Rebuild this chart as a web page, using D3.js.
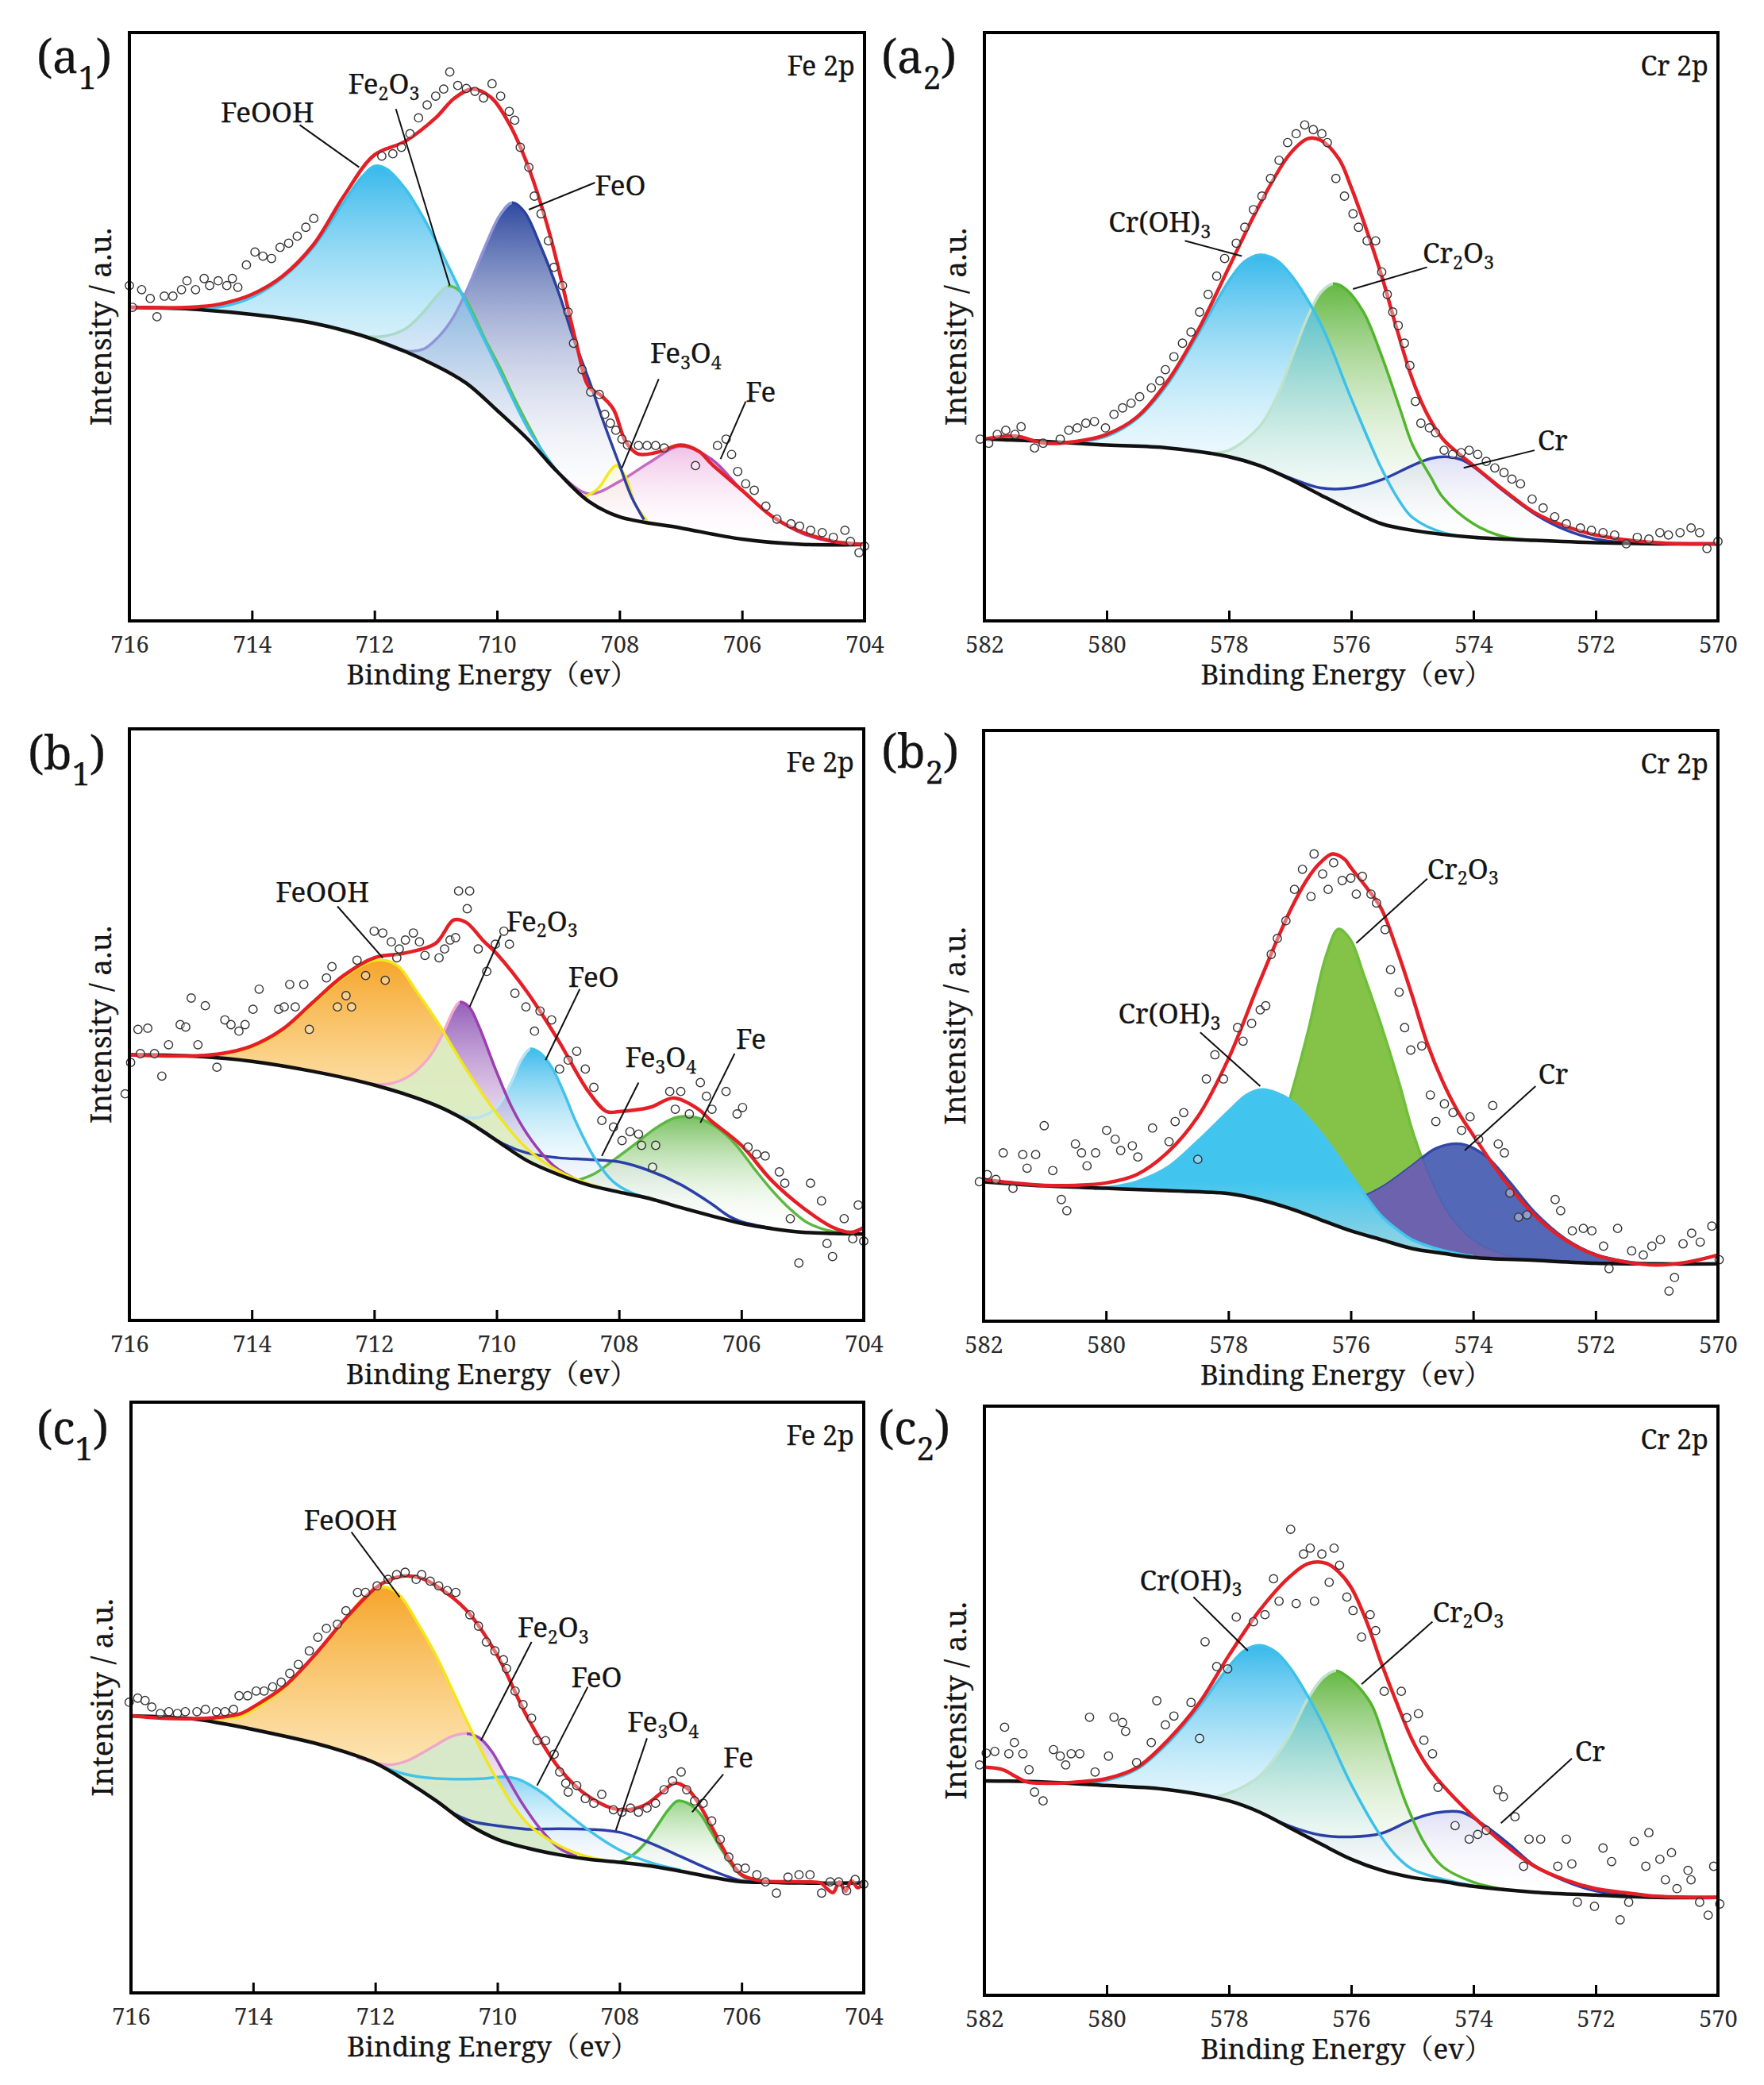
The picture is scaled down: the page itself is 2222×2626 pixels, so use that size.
<!DOCTYPE html>
<html><head><meta charset="utf-8">
<script src="https://cdn.jsdelivr.net/npm/d3@7"></script>
<style>body{margin:0;background:#fff}svg{display:block}
svg text{font-family:"Noto Serif","Liberation Serif","Noto Serif CJK SC","Noto Sans CJK SC",serif;}
</style>
</head><body>
<svg id="c" width="2222" height="2626"></svg>
<script>
// ---------------- DATA ----------------
const feTicks = [716,714,712,710,708,706,704];
const crTicks = [582,580,578,576,574,572,570];

// ---- (a1) Fe 2p ----
const a1Bg = [[716,53.3],[715,53.0],[714,52.1],[713,50.6],[712,47.8],[711,43.4],[710.5,40.4],[710,35.8],[709.5,30.9],[709,25.2],[708.5,20.3],[708,17.7],[707,15.8],[706,13.9],[705,13.0],[704,13.0]];
const a1Fit = [[716,53.3],[715,53.3],[714.5,53.9],[714,55.5],[713.5,58.6],[713,63.9],[712.5,72.2],[712,79.2],[711.5,81.5],[711,85.5],[710.7,88.8],[710.4,90.4],[710.1,89.0],[709.8,84.5],[709.5,77.5],[709.2,68],[709,60.1],[708.7,47],[708.5,39.8],[708.3,38.3],[708.1,36.0],[707.9,30.5],[707.7,28.4],[707.4,28.6],[707,29.9],[706.7,28.8],[706.5,26.7],[706,22.2],[705.5,17.7],[705,15.0],[704.5,13.5],[704,13.0]];
const a1FeOOH = [[716,53.3],[715,53.1],[714.5,53.4],[714,55.0],[713.5,58.3],[713,63.5],[712.5,71.2],[712.2,75.5],[712,77.3],[711.8,76.8],[711.5,73.5],[711.2,68.5],[711,64.6],[710.5,54],[710,43.4],[709.5,32.8],[709.2,28.0],[709,25.2]];
const a1Fe2O3 = [[712.6,49.5],[712.2,48.5],[711.9,48.3],[711.5,49.6],[711.2,52.5],[711,55],[710.8,56.9],[710.6,56.0],[710.4,52.5],[710.2,48],[709.95,43],[709.7,37.5],[709.4,31.5],[709.2,27.8],[709.0,25.2]];
const a1FeO = [[712,47.8],[711.5,45.9],[711.2,46.2],[711,47.8],[710.75,51],[710.5,56],[710.2,63.5],[709.95,69],[709.75,71.1],[709.55,69.5],[709.3,64],[709,56],[708.75,48],[708.5,41],[708.25,33.5],[708,26.5],[707.8,21],[707.6,17.2]];
const a1Fe3O4 = [[708.6,20.9],[708.35,22.5],[708.15,25.5],[708.05,26.4],[707.9,24.5],[707.75,20],[707.55,17.0]];
const a1Fe = [[709.2,27.3],[709,25.2],[708.5,21.6],[708,23.7],[707.5,27],[707,29.7],[706.5,27.5],[706,22.2],[705.5,17.7],[705,14.8],[704.5,13.4],[704,13.0]];
const a1Pts = [[716.0,57],[715.95,53.3],[715.8,56.3],[715.66,54.8],[715.55,51.7],[715.43,55.2],[715.29,55.2],[715.15,56.3],[715.06,57.8],[714.92,56.3],[714.78,58.2],[714.69,57],[714.55,57.8],[714.41,57],[714.32,58.2],[714.23,56.7],[714.09,60.5],[713.95,62.7],[713.82,62],[713.68,61.6],[713.54,63.5],[713.4,64.2],[713.26,65.4],[713.12,66.9],[712.99,68.4],[711.88,79],[711.7,79.4],[711.56,80.5],[711.42,82.8],[711.28,85.5],[711.14,87.7],[711.0,89.2],[710.87,90.4],[710.77,93.3],[710.64,91.0],[710.5,90.5],[710.36,90.0],[710.22,88.9],[710.08,91.3],[709.94,89.2],[709.8,86.6],[709.71,85.1],[709.62,80.5],[709.48,77.1],[709.39,72.2],[709.28,69.2],[709.16,64.6],[709.07,60.1],[708.93,57.0],[708.84,52.5],[708.75,47.2],[708.61,42.7],[708.47,38.9],[708.33,38.5],[708.24,35.1],[708.15,33.6],[708.06,32.4],[707.96,30.9],[707.87,29.9],[707.69,29.8],[707.55,29.8],[707.41,29.8],[707.27,29.4],[706.76,26.4],[706.4,29.8],[706.26,30.9],[706.17,28.3],[706.07,25.4],[705.94,23.3],[705.8,22.2],[705.61,19.5],[705.43,17.3],[705.2,16.5],[705.06,16.1],[704.88,15.4],[704.69,15.0],[704.51,14.2],[704.32,15.4],[704.23,13.5],[704.09,11.6],[704.0,12.7]];

// ---- (a2) Cr 2p ----
const a2Bg = [[582,30.9],[581,30.5],[580,29.9],[579,29.4],[578,27.9],[577.5,26.4],[577,24.1],[576.5,21.4],[576,18.8],[575.5,16.5],[575,15.4],[574,14.2],[573,13.7],[572,13.3],[571,13.1],[570,13.1]];
const a2Fit = [[582,30.9],[581.5,31.4],[581,30.2],[580.5,30.5],[580,31.7],[579.5,34.7],[579,40.8],[578.5,49.5],[578,60.1],[577.5,70.7],[577,79.4],[576.7,82.0],[576.5,81.7],[576.2,78.5],[576,73.7],[575.75,66.5],[575.5,58.6],[575.25,49.5],[575,41.1],[574.75,35],[574.5,30.9],[574.25,28.5],[574,26.4],[573.5,22.2],[573,18.4],[572.5,16.1],[572,14.6],[571,13.3],[570,13.1]];
const a2CrOH = [[580.6,30.2],[580,31.4],[579.5,34.4],[579,40.3],[578.5,48.8],[578,57.8],[577.75,61],[577.5,62.2],[577.25,61.5],[577,59],[576.5,50.5],[576,37.8],[575.5,25.8],[575.2,20.2],[575,17.6],[574.5,15.0],[574,14.2]];
const a2Cr2O3 = [[578.3,28.5],[578,29],[577.5,33],[577.2,38.5],[577,44],[576.7,52],[576.5,55.8],[576.3,57.3],[576.1,56.5],[575.8,52.5],[575.5,45],[575.2,36],[575,30],[574.7,24.5],[574.5,21],[574,16.5],[573.5,14.3],[573,13.7]];
const a2Cr = [[578,27.9],[577.5,26.4],[577,24.3],[576.5,22.6],[576,22.6],[575.5,24.0],[575,26.4],[574.7,27.6],[574.45,27.9],[574.2,27.4],[574,26.2],[573.5,22.0],[573,18.2],[572.5,15.5],[572,13.9],[571.5,13.3],[571,13.1]];
const a2Pts = [[582.07,30.9],[581.93,30.2],[581.79,31.7],[581.65,32.4],[581.5,31.7],[581.4,33.0],[581.18,29.4],[581.04,30.2],[580.76,30.9],[580.62,32.4],[580.48,32.8],[580.34,33.6],[580.2,33.9],[580.02,32.8],[579.88,35.1],[579.74,36.2],[579.6,37.0],[579.46,38.1],[579.27,39.6],[579.13,40.8],[579.04,42.7],[578.9,44.9],[578.76,47.2],[578.62,49.1],[578.48,52.5],[578.34,55.5],[578.2,58.6],[578.07,61.6],[577.88,64.2],[577.74,66.9],[577.6,69.9],[577.46,72.2],[577.32,75.2],[577.18,78.3],[577.04,81.3],[576.9,82.8],[576.76,84.3],[576.62,83.5],[576.48,82.8],[576.39,81.3],[576.25,75.2],[576.11,72.2],[575.97,69.2],[575.88,66.9],[575.74,64.6],[575.6,64.6],[575.5,59.3],[575.41,55.5],[575.32,52.5],[575.23,50.2],[575.13,47.2],[575.04,43.4],[574.95,37.3],[574.86,33.6],[574.72,32.8],[574.62,32.0],[574.48,29.0],[574.34,28.3],[574.2,28.6],[574.07,29.0],[573.93,28.3],[573.79,27.1],[573.65,26.0],[573.5,25.2],[573.37,24.1],[573.23,23.3],[573.04,20.7],[572.86,19.2],[572.67,17.7],[572.48,16.5],[572.25,15.8],[572.07,15.4],[571.88,15.0],[571.69,14.6],[571.5,13.1],[571.32,14.2],[571.13,13.9],[570.95,15.0],[570.81,14.6],[570.62,15.0],[570.44,15.8],[570.3,15.0],[570.18,12.3],[570.0,13.5]];

// ---- (b1) Fe 2p ----
const b1Bg = [[716,44.9],[715,44.7],[714,43.8],[713,42.1],[712,39.8],[711,36.4],[710.5,33.8],[710,30.4],[709.5,27.0],[709,24.7],[708.5,22.9],[708,21.7],[707.5,20.6],[707,19.1],[706.5,17.7],[706,16.4],[705.5,15.5],[705,14.9],[704.5,14.7],[704,14.6]];
const b1Fit = [[716,44.9],[715,44.7],[714.5,45.1],[714,46.4],[713.5,49.2],[713,53.8],[712.5,58.3],[712,61.3],[711.5,62.1],[711,63.7],[710.7,67.7],[710.5,67.3],[710.2,64],[710,62],[709.5,55.5],[709,47.5],[708.5,38.7],[708.2,35.3],[708,35.3],[707.5,36.0],[707.1,37.6],[706.7,35.7],[706.5,33.8],[706,29.6],[705.5,23.6],[705,19.1],[704.5,15.7],[704.2,14.9],[704,15.7]];
const b1FeOOH = [[715,44.7],[714.5,45],[714,46.2],[713.5,49],[713,53.5],[712.5,58],[712.1,60.5],[711.85,60.9],[711.6,59.8],[711.3,55.5],[711,51],[710.5,42.5],[710,35],[709.5,29],[709,25.3],[708.5,23.1],[708.1,21.9]];
const b1Fe2O3 = [[712.5,41],[712,39.9],[711.7,40.1],[711.4,41.5],[711.1,44.5],[710.9,48],[710.7,52.5],[710.6,53.8],[710.45,53],[710.3,50],[710,42],[709.75,36],[709.5,31.5],[709.2,27.5],[709,25.6],[708.6,23.3]];
const b1FeO = [[711,36.4],[710.6,34.6],[710.3,34.3],[710,36],[709.75,40.5],[709.6,44],[709.45,45.9],[709.3,45.3],[709.1,42.8],[708.9,38.5],[708.7,33.5],[708.4,27.5],[708.1,23.5],[707.8,21.6],[707.5,20.7]];
const b1Fe3O4 = [[710.5,33.8],[710.2,31.9],[709.9,29.9],[709.5,28.3],[709,27.5],[708.5,27.2],[708,26.8],[707.5,25.3],[707,23],[706.5,19.8],[706.2,17.6],[706,16.7],[705.5,15.6]];
const b1Fe = [[708.7,23.6],[708.4,24.8],[708.1,27],[707.8,29.3],[707.4,32.5],[707.1,34.2],[706.95,34.5],[706.7,34.2],[706.4,32.6],[706.1,29.8],[705.8,25.8],[705.5,22],[705.2,18.8],[704.9,16.4],[704.5,15],[704,14.6]];
const b1Pts = [[716.07,38.3],[715.98,43.6],[715.86,49.2],[715.7,49.4],[715.82,45.1],[715.59,45.1],[715.47,41.3],[715.36,46.6],[715.17,50.0],[715.08,49.6],[714.99,54.5],[714.88,46.6],[714.76,53.2],[714.57,42.8],[714.44,50.8],[714.34,50.0],[714.21,48.9],[714.11,50.0],[713.98,52.6],[713.88,56.0],[713.56,52.6],[713.47,53.0],[713.38,56.8],[713.29,53.0],[713.15,56.8],[713.06,49.2],[712.78,57.9],[712.69,59.8],[712.6,53.0],[712.46,54.9],[712.37,53.0],[712.28,60.9],[712.14,58.3],[712.0,65.8],[711.86,65.5],[711.82,57.5],[711.72,64.0],[711.63,61.3],[711.59,62.8],[711.49,64.3],[711.36,65.5],[711.26,64.0],[711.17,61.7],[710.94,61.3],[710.85,62.8],[710.76,64.3],[710.67,64.7],[710.62,72.6],[710.44,72.6],[710.48,69.6],[710.3,62.8],[710.16,59.0],[710.02,63.6],[709.88,65.8],[709.79,63.6],[709.7,55.3],[709.52,53.0],[709.38,48.9],[709.29,52.3],[709.1,50.8],[708.97,42.5],[708.83,44.0],[708.69,45.5],[708.55,42.5],[708.41,39.4],[708.28,33.8],[708.09,32.7],[707.95,30.4],[707.82,31.9],[707.68,31.5],[707.63,29.6],[707.45,25.9],[707.4,29.6],[707.17,38.7],[706.99,38.7],[707.08,35.7],[706.85,34.9],[706.67,40.2],[706.57,37.9],[706.48,35.7],[706.25,38.7],[706.07,34.9],[705.98,36.0],[705.89,29.3],[705.75,28.1],[705.61,27.8],[705.38,25.1],[705.29,23.2],[705.2,17.2],[705.06,9.7],[704.87,23.2],[704.69,20.2],[704.6,13.0],[704.51,10.8],[704.32,17.2],[704.18,13.8],[704.09,19.5],[704.0,13.4]];

// ---- (b2) Cr 2p ----
const b2Bg = [[582,23.6],[581,22.9],[580,22.5],[579,22.1],[578,21.6],[577.5,20.6],[577,19.1],[576.5,17.2],[576,15.3],[575.5,13.8],[575,12.3],[574.5,11.5],[574,10.8],[573,10.3],[572,9.8],[571,9.7],[570,9.7]];
const b2Fit = [[582,24.0],[581.5,23.4],[581,23.0],[580.5,23.0],[580,23.4],[579.5,24.8],[579,28.5],[578.5,34.6],[578,44.4],[577.5,57.2],[577,69.3],[576.7,75],[576.5,77.6],[576.3,79.1],[576.1,78.2],[576,76.8],[575.75,73.5],[575.5,69.8],[575.25,63],[575,55.2],[574.75,47],[574.5,40.6],[574.25,35.5],[574,31.5],[573.5,24.0],[573,18.0],[572.5,13.8],[572,11.2],[571.5,10.0],[571,9.5],[570.5,10.0],[570,11.2]];
const b2CrOH = [[580.2,22.4],[579.8,22.9],[579.5,23.6],[579,26],[578.5,30.5],[578,35.5],[577.7,38.3],[577.45,39.2],[577.2,38.6],[577,37.5],[576.5,32],[576,24.8],[575.5,17.8],[575.2,15.2],[575,13.8],[574.5,12.0],[574,11.0]];
const b2Cr2O3 = [[578.2,21.7],[577.8,22.5],[577.5,24.5],[577.2,31],[577,37.5],[576.7,49],[576.4,62],[576.2,66.4],[576,64.5],[575.8,59],[575.5,50],[575.2,40],[575,32.5],[574.7,24],[574.4,18],[574,13.6],[573.5,11.2],[573,10.3]];
const b2Cr = [[577.5,20.6],[577,19.6],[576.5,19.6],[576,20.3],[575.5,22.6],[575,26.3],[574.6,29.3],[574.2,30.0],[573.8,28],[573.4,23.5],[573,18.5],[572.5,14],[572,11.3],[571.5,10.1],[571,9.7]];
const b2Pts = [[582.07,23.6],[581.94,24.8],[581.8,24.0],[581.68,28.5],[581.52,22.5],[581.36,28.2],[581.29,25.9],[581.15,28.2],[581.01,33.1],[580.87,25.5],[580.73,20.6],[580.64,18.7],[580.5,30.0],[580.4,28.5],[580.31,26.3],[580.17,28.5],[579.99,32.3],[579.85,30.8],[579.76,28.9],[579.57,29.7],[579.48,27.8],[579.24,32.7],[578.97,30.4],[578.87,33.8],[578.73,35.3],[578.5,27.4],[578.36,41.0],[578.22,45.1],[578.08,41.0],[577.85,49.7],[577.76,47.4],[577.62,50.4],[577.48,52.7],[577.39,53.4],[577.3,62.1],[577.2,64.8],[577.06,67.8],[576.92,73.1],[576.79,76.5],[576.65,71.9],[576.6,79.1],[576.46,75.7],[576.37,73.1],[576.28,77.6],[576.14,74.6],[576.0,75.0],[575.91,72.3],[575.81,75.3],[575.67,72.3],[575.58,70.8],[575.44,66.3],[575.35,59.5],[575.21,55.7],[575.12,49.7],[575.02,45.9],[574.84,46.6],[574.7,38.3],[574.61,33.8],[574.47,36.8],[574.33,35.3],[574.19,32.3],[574.05,34.6],[573.91,30.8],[573.68,36.5],[573.59,30.0],[573.49,28.5],[573.4,21.7],[573.26,17.6],[573.12,18.0],[572.66,20.6],[572.57,18.7],[572.38,15.3],[572.2,15.7],[572.06,15.3],[571.87,12.7],[571.78,8.9],[571.64,15.7],[571.41,11.9],[571.22,11.2],[571.08,12.7],[570.94,13.8],[570.8,5.1],[570.71,7.4],[570.57,13.1],[570.43,14.9],[570.29,13.4],[570.1,16.1],[569.98,10.4]];

// ---- (c1) Fe 2p ----
const c1Bg = [[716,46.9],[715,46.4],[714.5,45.6],[714,44.6],[713,42.3],[712.5,40.8],[712,38.9],[711.5,35.9],[711,32.5],[710.5,28.7],[710,26.0],[709.5,24.5],[709,23.4],[708.5,22.6],[708,22.1],[707.5,21.5],[707,20.6],[706.5,19.6],[706,18.8],[705.5,18.7],[705,18.6],[704,18.6]];
const c1Fit = [[716,46.9],[715.5,46.5],[715,46.4],[714.5,46.7],[714.2,47.3],[714,48.4],[713.5,51.8],[713,57.1],[712.5,63.2],[712,68.5],[711.75,70.0],[711.5,70.6],[711.25,70.2],[711,68.9],[710.5,64.7],[710,57.1],[709.5,46.5],[709,38.2],[708.5,33.2],[708,31.0],[707.6,31.7],[707.3,34],[707.1,35.5],[706.9,34.7],[706.7,32],[706.5,28.3],[706.2,22.6],[706,20.0],[705.7,19.0],[705,18.8],[704.7,18.6],[704.6,17.6],[704.5,17.0],[704.4,18.8],[704.3,17.2],[704.2,19.0],[704.1,17.8],[704,18.6]];
const c1FeOOH = [[715,46.4],[714.5,46.4],[714.2,46.8],[714,47.9],[713.5,51.5],[713,57],[712.5,63],[712.2,66.8],[711.85,68.7],[711.6,67.3],[711.3,62.5],[711,57],[710.5,46],[710,36],[709.5,28.6],[709,25],[708.5,23],[708,22.1]];
const c1Fe2O3 = [[712.3,39.8],[712,39],[711.8,38.6],[711.5,39.2],[711.2,40.8],[711,42],[710.75,43.4],[710.5,43.9],[710.3,43.2],[710.1,41],[709.9,37.5],[709.6,32.2],[709.3,27.8],[709,24.6],[708.7,23.1]];
const c1FeO = [[712,38.9],[711.7,37.6],[711.4,36.8],[711,36.3],[710.5,36.2],[710.2,36.3],[709.9,36.6],[709.7,36.3],[709.5,35.4],[709.2,33.4],[709,31.6],[708.5,27.5],[708,24.2],[707.5,22.1],[707,20.8]];
const c1Fe3O4 = [[711,32.5],[710.7,30.3],[710.4,29.0],[710,28.3],[709.5,27.7],[709,27.8],[708.5,27.7],[708,27.2],[707.5,25.4],[707,23.1],[706.5,20.8],[706.2,19.6],[706,19.0],[705.6,18.7]];
const c1Fe = [[708,22.1],[707.8,23.2],[707.6,25.1],[707.4,28],[707.2,31],[707.05,32.5],[706.9,32.2],[706.7,30.6],[706.5,27.3],[706.3,23.8],[706.1,20.8],[705.9,19.2],[705.6,18.7]];
const c1Pts = [[716.03,49.2],[715.89,49.9],[715.77,49.5],[715.66,48.4],[715.52,47.3],[715.38,47.6],[715.24,47.3],[715.11,47.6],[714.92,47.6],[714.78,48.0],[714.6,47.6],[714.46,47.6],[714.32,48.0],[714.23,50.3],[714.09,50.3],[713.95,51.1],[713.82,51.1],[713.68,51.8],[713.54,52.6],[713.4,54.1],[713.26,55.6],[713.08,57.9],[712.94,60.2],[712.8,61.7],[712.62,62.4],[712.48,64.7],[712.29,67.8],[712.16,67.8],[711.97,68.9],[711.79,70.0],[711.65,70.8],[711.51,71.2],[711.33,70.0],[711.24,70.8],[711.1,69.7],[710.96,68.9],[710.82,68.1],[710.68,67.8],[710.45,64.0],[710.31,62.1],[710.18,59.4],[710.04,57.9],[709.9,56.4],[709.85,54.9],[709.71,51.1],[709.58,48.8],[709.44,46.5],[709.35,42.7],[709.21,42.7],[709.07,40.4],[708.98,37.4],[708.88,35.5],[708.84,34.0],[708.7,35.1],[708.56,32.9],[708.42,32.1],[708.29,33.6],[708.1,31.0],[707.96,30.6],[707.82,31.3],[707.69,30.6],[707.55,31.3],[707.41,32.1],[707.27,34.4],[707.13,35.9],[706.99,37.4],[706.9,34.4],[706.77,32.5],[706.63,32.1],[706.49,29.1],[706.35,26.0],[706.21,23.0],[706.07,21.1],[705.94,21.1],[705.75,20.0],[705.61,18.8],[705.43,16.9],[705.24,19.6],[705.06,20.0],[704.88,20.0],[704.69,16.9],[704.55,18.8],[704.41,18.8],[704.28,17.3],[704.14,19.2],[704.0,18.4]];

// ---- (c2) Cr 2p ----
const c2Bg = [[582,36.4],[581,36.2],[580,35.6],[579,34.9],[578,33.0],[577.5,31.1],[577,28.4],[576.5,25.7],[576,23.1],[575.5,21.2],[575,20.0],[574.5,19.3],[574,18.5],[573,17.5],[572,17.0],[571,16.6],[570,16.6]];
const c2Fit = [[582,38.7],[581.7,38.3],[581.5,37.2],[581.3,36.2],[581,36.0],[580.5,36.2],[580,36.8],[579.5,38.7],[579,43.3],[578.5,49.4],[578,57.7],[577.5,65.3],[577,71.1],[576.7,73.3],[576.4,73.3],[576.2,71.8],[576,69.2],[575.75,63.5],[575.5,56.2],[575.25,49.5],[575,43.3],[574.75,38.8],[574.5,35.6],[574,30.3],[573.5,25.7],[573,21.9],[572.5,19.6],[572,18.1],[571.5,17.4],[571,16.8],[570,16.6]];
const c2CrOH = [[580.6,36.0],[580,36.5],[579.5,38.4],[579,42.8],[578.5,48.8],[578,55.8],[577.75,58.5],[577.5,59.4],[577.25,58.4],[577,55.6],[576.5,46.8],[576,35.8],[575.5,26.8],[575.2,23],[575,21.4],[574.5,19.7],[574,18.6]];
const c2Cr2O3 = [[578.3,33.5],[578,34.3],[577.5,37.2],[577.2,41],[577,44.3],[576.7,50.5],[576.45,54],[576.25,55.1],[576.05,54],[575.85,52],[575.65,49],[575.4,41.5],[575.1,32.5],[574.8,25.8],[574.5,21.8],[574,19.2],[573.5,18]];
const c2Cr = [[577.5,31.1],[577,28.7],[576.5,27.2],[576,26.9],[575.5,27.5],[575,29.8],[574.6,31],[574.2,31.1],[573.8,28.7],[573.4,25.5],[573,22],[572.5,19.4],[572,17.7],[571.5,17]];
const c2Pts = [[582.08,39.1],[581.97,41.1],[581.83,41.4],[581.67,45.5],[581.6,41.0],[581.51,42.9],[581.37,41.0],[581.27,38.3],[581.18,34.5],[581.04,33.0],[580.87,41.7],[580.76,40.6],[580.67,39.1],[580.58,41.0],[580.44,41.0],[580.28,47.2],[580.19,37.9],[579.97,40.6],[579.88,47.2],[579.74,46.3],[579.69,44.8],[579.51,39.5],[579.27,42.9],[579.18,50.0],[579.04,45.9],[578.9,47.4],[578.62,49.7],[578.48,43.6],[578.39,60.0],[578.2,55.8],[578.02,55.4],[577.88,64.2],[577.6,63.4],[577.41,64.6],[577.27,70.7],[577.18,66.9],[576.99,79.1],[576.9,66.5],[576.78,74.9],[576.67,75.9],[576.6,66.9],[576.48,74.9],[576.36,70.1],[576.28,75.9],[576.19,73.0],[576.07,67.6],[575.97,65.3],[575.83,60.8],[575.69,64.6],[575.6,61.9],[575.46,51.6],[575.18,51.6],[575.09,47.1],[574.9,47.8],[574.81,43.3],[574.67,41.0],[574.58,35.3],[574.3,28.8],[574.07,26.5],[573.93,27.3],[573.79,28.0],[573.6,34.9],[573.51,33.7],[573.32,30.3],[573.18,21.9],[573.09,26.5],[572.9,26.5],[572.62,21.9],[572.48,26.5],[572.39,22.3],[572.3,15.8],[572.02,15.1],[571.88,25.0],[571.74,22.7],[571.6,12.8],[571.46,15.8],[571.37,26.1],[571.13,27.6],[571.18,21.9],[570.95,23.1],[570.86,19.6],[570.76,24.2],[570.67,18.1],[570.49,21.2],[570.44,19.6],[570.3,15.8],[570.16,13.6],[570.07,21.9],[569.97,15.5]];

// ---------------- STYLES / LAYOUT ----------------
const S = {
  cyan:    {line:'#3dc0ea', stops:[[0,'#2db5ea',0.95],[1,'#ffffff',0.05]]},
  navyDk:  {line:'#2c40a2', lineL:'#8f95d6', stops:[[0,'#24409a',0.95],[1,'#ffffff',0.02]]},
  greenA1: {line:'#5fbf4a', lineL:'#a9dac6', stops:[[0,'#c7a7d8',0.45],[1,'#ffffff',0.05]]},
  yellowA: {line:'#f3ea1d', stops:[[0,'#fff49a',0.4],[1,'#ffffff',0.05]]},
  pinkA:   {line:'#b24bb5', lineL:'#c46cc4', stops:[[0,'#eaa6dc',0.7],[1,'#ffffff',0.05]]},
  crBlue:  {line:'#2b3fa8', lineL:'#a9abe2', stops:[[0,'#c4c6ec',0.55],[1,'#ffffff',0.05]]},
  crGreen: {line:'#52b52e', lineL:'#bfe2cc', stops:[[0,'#5db43a',0.95],[1,'#ffffff',0.05]]},
  orange:  {line:'#f2e61a', stops:[[0,'#f5a01e',0.95],[1,'#fff4c4',0.5]]},
  purple:  {line:'#9b3fb0', lineL:'#f3a9c9', stops:[[0,'#8c52b4',0.92],[1,'#fbeaf4',0.3]]},
  cyanB:   {line:'#43c3ea', lineL:'#b9e3f3', stops:[[0,'#34b8ea',0.95],[1,'#ffffff',0.05]]},
  lav:     {line:'#2b3fa8', lineL:'#b7b9e8', stops:[[0,'#c4c6ee',0.5],[1,'#ffffff',0.05]]},
  greenB:  {line:'#5cb843', stops:[[0,'#62b646',0.85],[1,'#ffffff',0.05]]},
  sGreen:  {line:'#6fbf3b', stops:[[0,'#84c248',1],[1,'#84c248',1]]},
  sCyan:   {line:'#45c4ee', stops:[[0,'#41c5ef',1],[0.55,'#41c5ef',1],[1,'#9ddbe6',0.95]]},
  sBlue:   {line:'#3349a8', stops:[[0,'#4a60b3',0.95],[1,'#4a60b3',0.95]]},
  purpleC: {line:'#9b44b4', lineL:'#f0a6cc', stops:[[0,'#c9a6dc',0.7],[1,'#ffffff',0.1]]},
  greenC:  {line:'#4fb83c', stops:[[0,'#6fc25a',0.7],[1,'#ffffff',0.05]]},
  cyanC:   {line:'#44c3ea', stops:[[0,'#3ab9ea',0.8],[1,'#ffffff',0.05]]}
};

const panels = [
 {id:'a1', lab:['a','1'], el:'Fe 2p', dom:[716,704], ticks:feTicks, box:[163,41,926,741], lp:[46,92],
  bg:a1Bg, fit:a1Fit, pts:a1Pts,
  comps:[{p:a1Fe,s:S.pinkA},{p:a1Fe3O4,s:S.yellowA},{p:a1Fe2O3,s:S.greenA1},{p:a1FeO,s:S.navyDk},{p:a1FeOOH,s:S.cyan}],
  notes:[{t:'FeOOH',x:714.51,y:84.7,l:[713.22,84.3,712.25,77.1]},{t:'Fe_2O_3',x:712.43,y:89.6,l:[711.65,87.0,710.77,57.0]},
         {t:'FeO',x:708.4,y:72.4,l:[708.4,74.5,709.48,69.9]},{t:'Fe_3O_4',x:707.5,y:43.8,l:[707.36,41.1,707.96,26.0]},
         {t:'Fe',x:705.94,y:37.3,l:[705.94,37.3,706.35,27.5]}]},
 {id:'a2', lab:['a','2'], el:'Cr 2p', dom:[582,570], ticks:crTicks, box:[1240,41,924,741], lp:[1110,92],
  bg:a2Bg, fit:a2Fit, pts:a2Pts,
  comps:[{p:a2Cr,s:S.crBlue},{p:a2Cr2O3,s:S.crGreen},{p:a2CrOH,s:S.cyan}],
  notes:[{t:'Cr(OH)_3',x:579.97,y:66.1,l:[578.72,64.6,577.79,62.0]},{t:'Cr_2O_3',x:574.83,y:60.8,l:[574.76,60.1,575.97,56.4]},
         {t:'Cr',x:572.95,y:29.0,l:[573.0,29.0,574.16,26.0]}]},
 {id:'b1', lab:['b','1'], el:'Fe 2p', dom:[716,704], ticks:feTicks, box:[163,918,925,745], lp:[35,969],
  bg:b1Bg, fit:b1Fit, pts:b1Pts,
  comps:[{p:b1Fe,s:S.greenB},{p:b1Fe3O4,s:S.lav},{p:b1FeO,s:S.cyanB},{p:b1Fe2O3,s:S.purple},{p:b1FeOOH,s:S.orange}],
  ov:[{a:3,b:4,at:4,fill:'#dcedc4',op:0.95}],
  notes:[{t:'FeOOH',x:713.61,y:70.7,l:[712.6,70.0,711.86,61.3]},{t:'Fe_2O_3',x:709.84,y:65.8,l:[709.93,65.1,710.44,53.0]},
         {t:'FeO',x:708.83,y:56.4,l:[708.64,56.0,709.2,44.0]},{t:'Fe_3O_4',x:707.9,y:42.8,l:[707.68,40.2,708.28,27.8]},
         {t:'Fe',x:706.09,y:45.9,l:[706.11,45.1,706.67,33.4]}]},
 {id:'b2', lab:['b','2'], el:'Cr 2p', dom:[582,570], ticks:crTicks, box:[1239,920,925,744], lp:[1110,967],
  bg:b2Bg, fit:b2Fit, pts:b2Pts, inter:true,
  comps:[{p:b2Cr2O3,s:S.sGreen},{p:b2Cr,s:S.sBlue},{p:b2CrOH,s:S.sCyan}],
  ov:[{a:1,b:0,at:1,fill:'#6c62ad',op:1}],
  notes:[{t:'Cr(OH)_3',x:579.8,y:50.4,l:[578.46,48.9,577.48,39.8]},{t:'Cr_2O_3',x:574.75,y:74.9,l:[574.75,74.9,575.91,64.0]},
         {t:'Cr',x:572.94,y:40.2,l:[572.98,39.8,574.14,28.9]}]},
 {id:'c1', lab:['c','1'], el:'Fe 2p', dom:[716,704], ticks:feTicks, box:[165,1766,923,744], lp:[46,1819],
  bg:c1Bg, fit:c1Fit, pts:c1Pts,
  comps:[{p:c1Fe,s:S.greenC},{p:c1Fe3O4,s:S.lav},{p:c1FeO,s:S.cyanC},{p:c1Fe2O3,s:S.purpleC},{p:c1FeOOH,s:S.orange}],
  ov:[{a:3,b:4,at:4,fill:'#d6eacb',op:0.95}],
  notes:[{t:'FeOOH',x:713.17,y:78.4,l:[712.39,78.0,711.6,67.0]},{t:'Fe_2O_3',x:709.67,y:60.2,l:[709.44,59.4,710.27,42.7]},
         {t:'FeO',x:708.79,y:51.8,l:[708.52,51.8,709.35,35.1]},{t:'Fe_3O_4',x:707.87,y:44.2,l:[707.55,43.1,708.06,27.5]},
         {t:'Fe',x:706.3,y:38.2,l:[706.3,37.0,706.81,30.6]}]},
 {id:'c2', lab:['c','2'], el:'Cr 2p', dom:[582,570], ticks:crTicks, box:[1240,1771,924,742], lp:[1106,1819],
  bg:c2Bg, fit:c2Fit, pts:c2Pts,
  comps:[{p:c2Cr,s:S.crBlue},{p:c2Cr2O3,s:S.crGreen},{p:c2CrOH,s:S.cyan}],
  notes:[{t:'Cr(OH)_3',x:579.46,y:68.8,l:[578.58,67.6,577.69,58.5]},{t:'Cr_2O_3',x:574.67,y:63.4,l:[574.67,63.4,575.83,52.8]},
         {t:'Cr',x:572.34,y:39.8,l:[572.39,40.2,573.55,29.2]}]}
];

// ---------------- RENDER ----------------
const svg = d3.select('#c');
svg.append('rect').attr('width',2222).attr('height',2626).attr('fill','#fff');
const defs = svg.append('defs');
let gid = 0;
const TXT = '#141414';

function rich(sel, str, fs){
  let sub=false;
  str.split(/(_\d)/).filter(Boolean).forEach(s=>{
    if(s[0]==='_'){ sel.append('tspan').attr('font-size',fs*0.66).attr('dy',fs*0.22).text(s.slice(1)); sub=true; }
    else { const t=sel.append('tspan').text(s); if(sub){ t.attr('dy',-fs*0.22); sub=false; } }
  });
}
function txt(g){ return g.append('text').attr('fill',TXT).attr('stroke',TXT).attr('stroke-width',0.25); }

function drawPanel(p){
  const [L,T,W,H]=p.box;
  const x=d3.scaleLinear().domain(p.dom).range([L,L+W]);
  const y=d3.scaleLinear().domain([0,100]).range([T+H,T]);
  const cid='clip-'+p.id;
  defs.append('clipPath').attr('id',cid).append('rect').attr('x',L).attr('y',T).attr('width',W).attr('height',H);
  const g=svg.append('g');
  const pg=g.append('g').attr('clip-path',`url(#${cid})`);
  const line=d3.line().x(d=>x(d[0])).y(d=>y(d[1])).curve(d3.curveCatmullRom.alpha(0.5));

  const areaD = pts => {
    const hi=pts[0][0], lo=pts[pts.length-1][0];
    const seg=p.bg.filter(d=>d[0]<hi && d[0]>lo).slice().reverse();
    const back=[pts[pts.length-1], ...seg, pts[0]];
    return line(pts)+'L'+line(back).slice(1)+'Z';
  };
  const drawLine = c => {
    const pts=c.p, st=c.s;
    let stroke=st.line;
    if(st.lineL){
      const pk=pts.reduce((a,b)=>b[1]>a[1]?b:a);
      const off=Math.max(0,Math.min(1,(x(pk[0])-L)/W));
      const sid='g'+(gid++);
      const sg=defs.append('linearGradient').attr('id',sid).attr('gradientUnits','userSpaceOnUse')
        .attr('x1',L).attr('x2',L+W).attr('y1',0).attr('y2',0);
      [[0,st.lineL],[off,st.lineL],[off,st.line],[1,st.line]].forEach(([o,cl])=>sg.append('stop').attr('offset',o).attr('stop-color',cl));
      stroke=`url(#${sid})`;
    }
    pg.append('path').attr('d',line(pts)).attr('fill','none').attr('stroke',stroke).attr('stroke-width',3.5);
  };

  p.comps.forEach((c,i)=>{
    const fid='g'+(gid++);
    const lg=defs.append('linearGradient').attr('id',fid).attr('x1',0).attr('y1',0).attr('x2',0).attr('y2',1);
    c.s.stops.forEach(([o,cl,op])=>lg.append('stop').attr('offset',o).attr('stop-color',cl).attr('stop-opacity',op));
    pg.append('path').attr('d',areaD(c.p)).attr('fill',`url(#${fid})`);
    if(p.inter) drawLine(c);
    (p.ov||[]).filter(o=>o.at===i).forEach(o=>{
      const oc='ov'+(gid++);
      defs.append('clipPath').attr('id',oc).append('path').attr('d',areaD(p.comps[o.b].p));
      pg.append('g').attr('clip-path',`url(#${oc})`).append('path').attr('d',areaD(p.comps[o.a].p))
        .attr('fill',o.fill).attr('fill-opacity',o.op);
    });
  });
  if(!p.inter) p.comps.forEach(drawLine);

  pg.append('path').attr('d',line(p.bg)).attr('fill','none').attr('stroke','#111').attr('stroke-width',4.5);

  g.append('g').selectAll('circle').data(p.pts).join('circle')
    .attr('cx',d=>x(d[0])).attr('cy',d=>y(d[1])).attr('r',5.2)
    .attr('fill','#fff').attr('fill-opacity',0.35).attr('stroke','#333').attr('stroke-width',1.4);

  pg.append('path').attr('d',line(p.fit)).attr('fill','none').attr('stroke','#e41f26').attr('stroke-width',4.5);

  // axis
  const ax=d3.axisBottom(x).tickValues(p.ticks).tickSize(-13).tickSizeOuter(0).tickPadding(19).tickFormat(d3.format('d'));
  const ag=g.append('g').attr('transform',`translate(0,${T+H})`).call(ax);
  ag.attr('font-family',null);
  ag.select('.domain').remove();
  ag.selectAll('.tick line').attr('stroke','#000').attr('stroke-width',3);
  ag.selectAll('.tick text').attr('font-size',29).attr('fill','#2a2a2a');

  g.append('rect').attr('x',L).attr('y',T).attr('width',W).attr('height',H)
    .attr('fill','none').attr('stroke','#000').attr('stroke-width',4);

  // titles
  txt(g).attr('x',L+W/2-6).attr('y',T+H+80).attr('text-anchor','middle').attr('font-size',35).text('Binding Energy（ev）');
  txt(g).attr('transform',`translate(${L-23},${T+H/2}) rotate(-90)`).attr('text-anchor','middle').attr('font-size',37).text('Intensity / a.u.');
  txt(g).attr('x',L+W-12).attr('y',T+54).attr('text-anchor','end').attr('font-size',34).text(p.el);
  const pl=txt(g).attr('x',p.lp[0]).attr('y',p.lp[1]).attr('font-size',58);
  pl.append('tspan').text('('+p.lab[0]);
  pl.append('tspan').attr('font-size',40).attr('dy',20).text(p.lab[1]);
  pl.append('tspan').attr('dy',-20).text(')');

  // annotations
  p.notes.forEach(n=>{
    g.append('line').attr('x1',x(n.l[0])).attr('y1',y(n.l[1])).attr('x2',x(n.l[2])).attr('y2',y(n.l[3]))
      .attr('stroke','#111').attr('stroke-width',2);
    const t=txt(g).attr('x',x(n.x)).attr('y',y(n.y)).attr('font-size',35);
    rich(t,n.t,35);
  });
}
panels.forEach(drawPanel);
</script>
</body></html>
